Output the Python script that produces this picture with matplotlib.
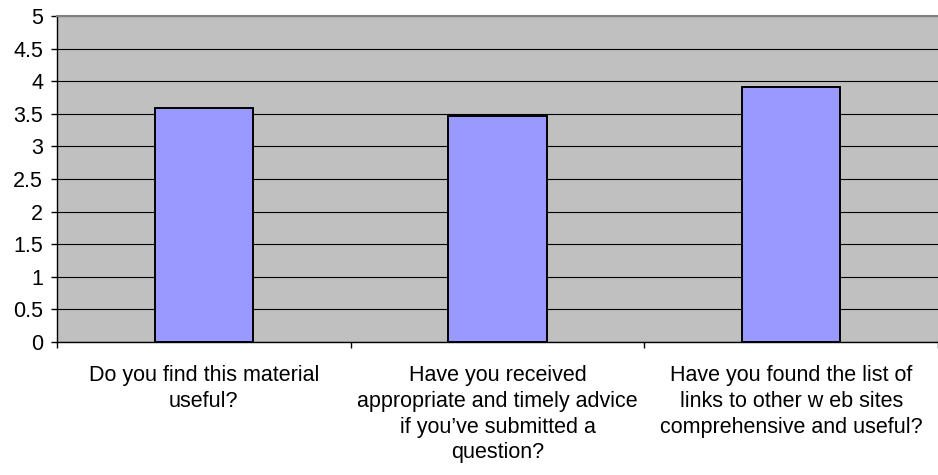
import numpy as np
import matplotlib.pyplot as plt
from matplotlib.ticker import FixedLocator

plt.rcParams['font.family'] = ['Liberation Sans', 'DejaVu Sans']

questions = [
    "Do you find this material\nuseful?",
    "Have you received\nappropriate and timely advice\nif you\u2019ve submitted a\nquestion?",
    "Have you found the list of\nlinks to other w eb sites\ncomprehensive and useful?",
]
scores = [3.59, 3.46, 3.91]
y_ticks = [0, 0.5, 1, 1.5, 2, 2.5, 3, 3.5, 4, 4.5, 5]
y_labels = ["0", "0.5", "1", "1.5", "2", "2.5", "3", "3.5", "4", "4.5", "5"]

fig = plt.figure(figsize=(9.38, 4.75), dpi=100)
ax = fig.add_axes([57 / 938, 1 - 342 / 475, 1 - 57 / 938, (342 - 16) / 475])
ax.set_facecolor('#C0C0C0')

x = np.arange(len(scores))
ax.bar(x, scores, width=0.335, color='#9999FF', edgecolor='black',
       linewidth=1.4, zorder=3)

ax.set_ylim(0, 5)
ax.set_xlim(-0.5, len(scores) - 0.5)
ax.set_yticks(y_ticks)
ax.set_yticklabels(y_labels)
ax.yaxis.grid(True, color='black', linewidth=0.8, zorder=1)
ax.set_axisbelow(True)

# category labels centred, ticks drawn at category boundaries
ax.set_xticks(x)
ax.set_xticklabels(questions, linespacing=1.3, va='top')
ax.tick_params(axis='x', which='major', length=0, pad=16.5, labelsize=15.5)
ax.xaxis.set_minor_locator(FixedLocator(np.arange(-0.5, len(scores), 1.0)))
ax.tick_params(axis='x', which='minor', length=4, width=1, color='black', direction='out')
ax.tick_params(axis='y', length=4, width=1, color='black', direction='out',
               labelsize=15.5, pad=6)

ax.spines['left'].set_color('black')
ax.spines['bottom'].set_color('black')
ax.spines['left'].set_linewidth(1)
ax.spines['bottom'].set_linewidth(1)
ax.spines['top'].set_color('#808080')
ax.spines['top'].set_linewidth(1.5)
ax.spines['right'].set_visible(False)

fig.savefig('out.png', dpi=100)
